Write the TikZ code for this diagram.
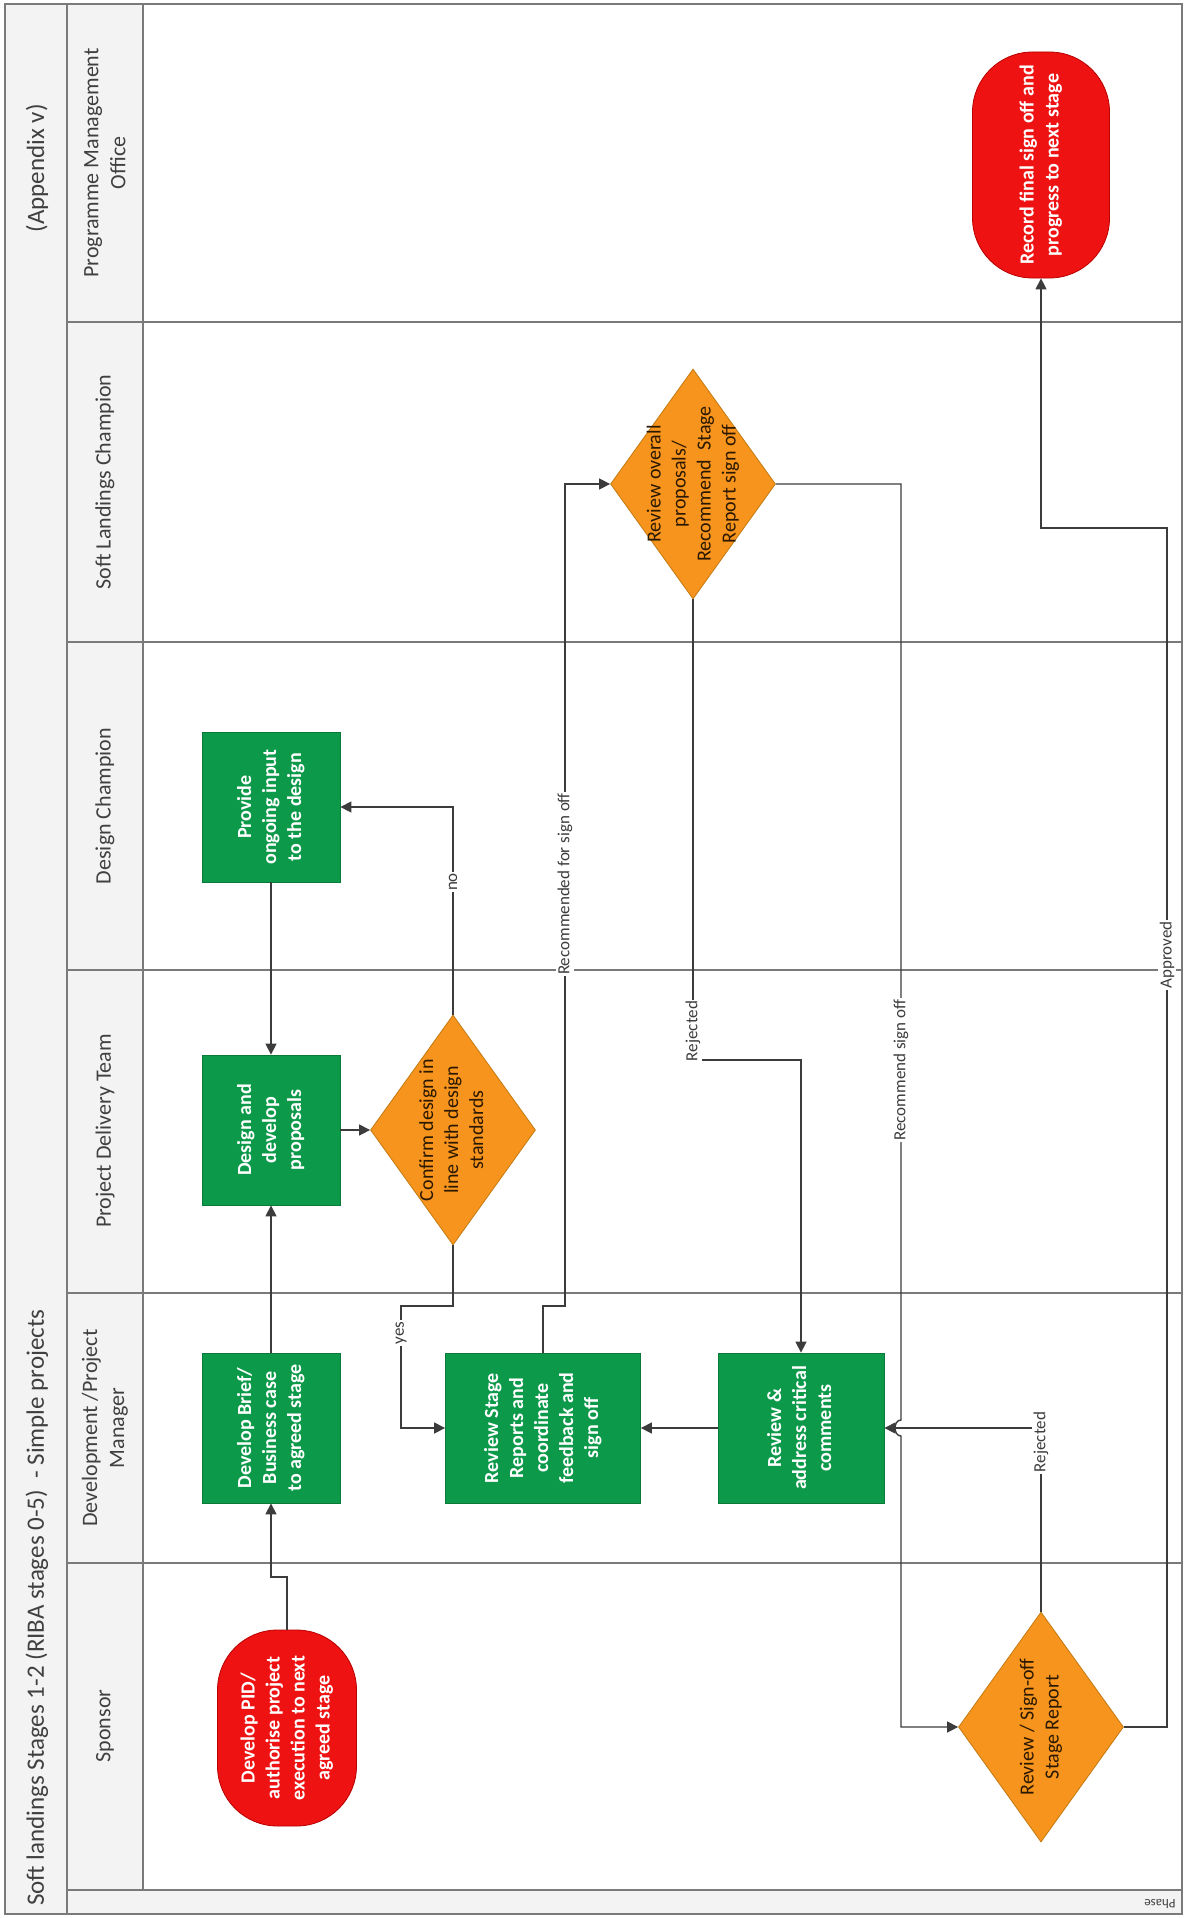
\documentclass[tikz,border=0pt]{standalone}
\usepackage{fontspec}
\setmainfont{Carlito}
\usetikzlibrary{shapes.geometric,arrows.meta}

\definecolor{boxgreen}{HTML}{0C9A4A}
\definecolor{boxgreenedge}{HTML}{097A3A}
\definecolor{decorange}{HTML}{F7941D}
\definecolor{decedge}{HTML}{C27A12}
\definecolor{termred}{HTML}{EE1212}
\definecolor{termedge}{HTML}{B80000}
\definecolor{flowline}{HTML}{3C3C3C}
\definecolor{laneline}{HTML}{7A7A7A}
\definecolor{headfill}{HTML}{F3F3F3}
\definecolor{dectext}{HTML}{2A1800}
\definecolor{headtext}{HTML}{404040}

% text turned to read from bottom to top, several centred lines
\newcommand{\vtxt}[1]{\rotatebox{90}{\begin{tabular}{@{}c@{}}#1\end{tabular}}}

\begin{document}
\begin{tikzpicture}[x=1pt,y=-1pt,
  flow/.style={draw=flowline, line width=1.4pt, -{Triangle[length=11pt,width=11pt]}},
  lane/.style={draw=laneline, line width=1.2pt},
  gbox/.style={rectangle, draw=boxgreenedge, line width=0.8pt, fill=boxgreen,
    text=white, inner sep=0pt, minimum width=138pt, minimum height=150pt,
    font=\bfseries\fontsize{20}{25}\selectfont},
  term/.style={rectangle, rounded corners=60pt, draw=termedge, line width=0.8pt,
    fill=termred, text=white, inner sep=0pt,
    font=\bfseries\fontsize{20}{25}\selectfont},
  dec/.style={diamond, aspect=0.7, draw=decedge, line width=0.8pt, fill=decorange,
    inner sep=0pt, minimum width=165pt, minimum height=230pt},
  dectxt/.style={text=dectext, inner sep=0pt, font=\fontsize{20}{25}\selectfont},
  flab/.style={fill=white, inner sep=1.5pt, text=flowline, rotate=90,
    font=\fontsize{17}{20}\selectfont},
  head/.style={text=headtext, rotate=90, align=center,
    font=\fontsize{22}{27}\selectfont},
  titletxt/.style={text=headtext, rotate=90, inner sep=0pt,
    font=\fontsize{25}{30}\selectfont},
]
\useasboundingbox (0,0) rectangle (1184,1918);
\fill[white] (0,0) rectangle (1184,1918);

% ---------- frame, header column and lanes ----------
\fill[headfill] (5,4) rectangle (143,1914);
\fill[headfill] (143,1890) rectangle (1182,1914);
\draw[lane] (67,4) -- (67,1914);
\draw[lane] (143,4) -- (143,1890);
\foreach \yy in {322,642,970,1293,1563}
  \draw[lane] (67,\yy) -- (1182,\yy);
\draw[laneline, line width=2pt] (67,1890) -- (1182,1890);
\draw[laneline, line width=1.4pt] (5,4) rectangle (1182,1914);

\node[titletxt, anchor=west] (title) at (37,1906)
  {Soft landings Stages 1-2 (RIBA stages 0-5)\ \ - Simple projects};
\node[titletxt, anchor=east] (appx) at (37,104) {(Appendix v)};

\node[head] (hpmo) at (105,163) {Programme Management\\Office};
\node[head] (hslc) at (105,482) {Soft Landings Champion};
\node[head] (hdc)  at (105,806) {Design Champion};
\node[head] (hpdt) at (105,1131) {Project Delivery Team};
\node[head] (hdpm) at (105,1428) {Development /Project\\Manager};
\node[head] (hsp)  at (105,1726) {Sponsor};
\node[text=headtext, rotate=180, font=\fontsize{13}{15}\selectfont] (phase)
  at (1160,1904) {Phase};

% ---------- process steps ----------
\node[term, minimum width=139pt, minimum height=196pt] (pid) at (287,1728)
  {\vtxt{Develop PID/\\authorise project\\execution to next\\agreed stage}};
\node[gbox] (brief) at (271,1428)
  {\vtxt{Develop Brief/\\Business case\\to agreed stage}};
\node[gbox] (dd) at (271,1130)
  {\vtxt{Design and\\develop\\proposals}};
\node[gbox] (pi) at (271,807)
  {\vtxt{Provide\\ongoing input\\to the design}};
\node[gbox, minimum width=195pt] (rsr) at (543,1428)
  {\vtxt{Review Stage\\Reports and\\coordinate\\feedback and\\sign off}};
\node[gbox, minimum width=166pt] (rac) at (801,1428)
  {\vtxt{Review \&\\address critical\\comments}};
\node[term, minimum width=137pt, minimum height=226pt] (rf) at (1041,165)
  {\vtxt{Record final sign off and\\progress to next stage}};

\node[dec, label={[dectxt]center:\vtxt{Confirm design in\\line with design\\standards}}]
  (cd) at (453,1130) {};
\node[dec, label={[dectxt]center:\vtxt{Review overall\\proposals/\\Recommend\ \ Stage\\Report sign off}}]
  (ro) at (693,484) {};
\node[dec, label={[dectxt]center:\vtxt{Review / Sign-off\\Stage Report}}]
  (sd) at (1041,1727) {};

% ---------- connectors ----------
\draw[flow] (pid.north) -- (287,1577) -| (brief.south);
\draw[flow] (brief.north) -- (dd.south);
\draw[flow] (pi.south) -- (dd.north);
\draw[flow] (dd.east) -- (cd.west);
\draw[flow] (cd.north) |- (pi.east);
\draw[flow] (cd.south) |- (401,1306) |- (rsr.west);
\draw[flow] (rsr.north) |- (565,1306) |- (ro.west);
\draw[flow] (ro.south) -- (693,1060) -| (rac.north);
\draw[flow] (rac.west) -- (rsr.east);
\draw[flow] (ro.east) -| (901,1420) .. controls (893,1420) and (893,1436) .. (901,1436)
  |- (sd.west);
\draw[flow] (sd.north) |- (rac.east);
\draw[flow] (sd.east) -| (1167,528) -| (rf.south);

% ---------- connector labels ----------
\node[flab] (lno)   at (453,882)  {no};
\node[flab] (lyes)  at (401,1333) {yes};
\node[flab] (lrec)  at (565,884)  {Recommended for sign off};
\node[flab] (lrej1) at (693,1031) {Rejected};
\node[flab] (lrso)  at (901,1070) {Recommend sign off};
\node[flab] (lrej2) at (1041,1442) {Rejected};
\node[flab] (lapp)  at (1167,955) {Approved};
\end{tikzpicture}
\end{document}
